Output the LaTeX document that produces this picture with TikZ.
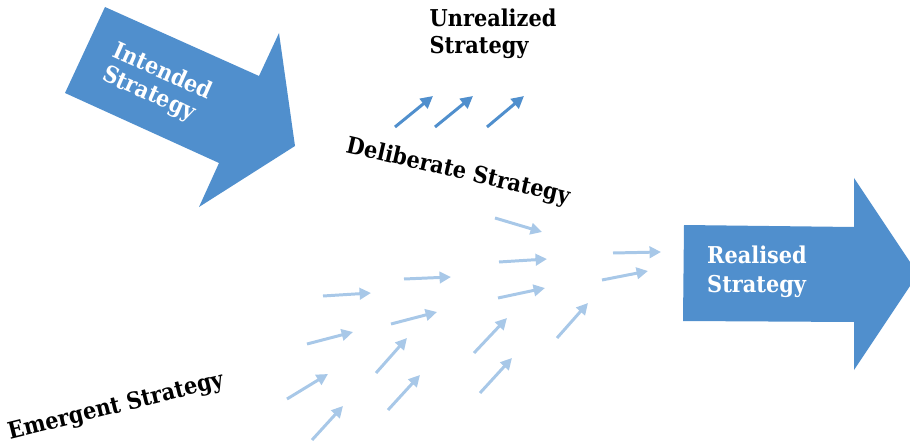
\documentclass[tikz,border=0pt]{standalone}
\usepackage{fontspec}
\setmainfont{DejaVu Serif Condensed}
\usetikzlibrary{arrows.meta}
\definecolor{bigblue}{RGB}{80,143,205}
\definecolor{darkarr}{RGB}{80,143,205}
\definecolor{lightarr}{RGB}{168,200,232}
\tikzset{
  bigarrow/.style={fill=bigblue, draw=none},
  lbl/.style={font=\fontsize{13.2}{15.5}\selectfont\bfseries, inner sep=0pt, align=left},
  wlbl/.style={lbl, text=white},
  darrow/.style={draw=darkarr, line width=1.7pt, -{Triangle[length=7pt,width=7pt]}},
  larrow/.style={draw=lightarr, line width=1.7pt, -{Triangle[length=6.5pt,width=6.5pt]}},
}
\begin{document}
\begin{tikzpicture}[x=0.02cm,y=-0.02cm]
\useasboundingbox (0,0) rectangle (910,446);
% Intended strategy arrow
\fill[bigarrow] (105,7) -- (259,76) -- (279,33) -- (295,146) -- (199,207) -- (219,163) -- (65,93) -- cycle;
\node[wlbl, rotate=-24, font=\fontsize{13.2}{14.5}\selectfont\bfseries] (intended) at (157,84) {Intended\\Strategy};
% Realised strategy arrow
\fill[bigarrow] (684,225) -- (854,227) -- (854,178) -- (918,274) -- (854,370) -- (854,322) -- (683,321) -- cycle;
\node[wlbl, font=\fontsize{13.2}{16.5}\selectfont\bfseries] (realised) at (757,272) {Realised\\Strategy};
% labels
\node[lbl] (unreal) at (493,34) {Unrealized\\Strategy};
\node[lbl, rotate=-13] (delib) at (458,172) {Deliberate Strategy};
\node[lbl, rotate=14] (emerg) at (116,407) {Emergent Strategy};
% unrealized arrows
\coordinate (u1s) at (395,127); \coordinate (u1e) at (433,96);
\coordinate (u2s) at (435,127); \coordinate (u2e) at (473,96);
\coordinate (u3s) at (487,127); \coordinate (u3e) at (524,96);
\draw[darrow] (u1s) -- (u1e);
\draw[darrow] (u2s) -- (u2e);
\draw[darrow] (u3s) -- (u3e);
% emergent arrows
\foreach \a/\b/\c/\d in {
  323/296/371/293, 404/279/451/277, 499/262/547/259, 613/253/661/252,
  602/280/648/271, 498/298/545/288, 307/344/353/332, 391/324/437/312,
  287/399/328/374, 312/440/343/406, 376/373/407/338, 388/410/420/375,
  474/353/507/318, 480/393/512/358, 557/338/588/303, 495/218/542/232}{
  \coordinate (s) at (\a,\b); \coordinate (e) at (\c,\d);
  \draw[larrow] (s) -- (e);
}
\end{tikzpicture}
\end{document}
